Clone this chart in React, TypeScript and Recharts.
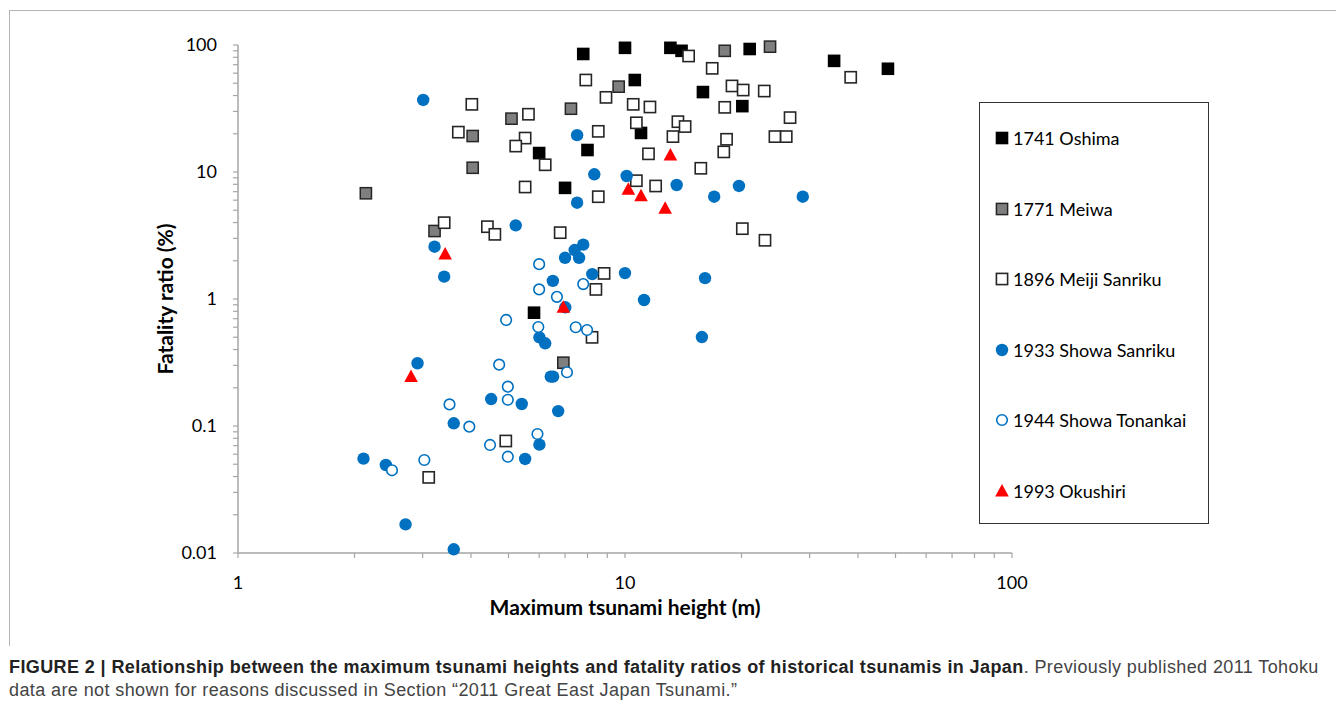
import { Legend, Scatter, ScatterChart, XAxis, YAxis } from "recharts";

// tsunami height (m) vs fatality ratio (%)
const oshima = [
  { h: 7.8, f: 85 }, { h: 10.0, f: 95 }, { h: 13.1, f: 95 }, { h: 14.0, f: 90 },
  { h: 21.0, f: 93 }, { h: 10.6, f: 53 }, { h: 15.9, f: 42.6 }, { h: 20.1, f: 33 },
  { h: 11.0, f: 20.3 }, { h: 6.0, f: 14.1 }, { h: 8.0, f: 14.9 }, { h: 7.0, f: 7.5 },
  { h: 34.7, f: 75 }, { h: 47.8, f: 65 }, { h: 5.82, f: 0.78 },
];

const meiwa = [
  { h: 2.14, f: 6.8 }, { h: 3.22, f: 3.43 }, { h: 4.04, f: 19.2 }, { h: 4.04, f: 10.8 },
  { h: 5.09, f: 26.3 }, { h: 7.25, f: 31.5 }, { h: 9.63, f: 47 }, { h: 18.1, f: 90 },
  { h: 23.7, f: 97 }, { h: 6.93, f: 0.315 },
];

const meiji = [
  { h: 4.02, f: 34.1 }, { h: 5.63, f: 28.5 }, { h: 3.71, f: 20.6 }, { h: 5.52, f: 18.5 },
  { h: 5.22, f: 16.0 }, { h: 6.22, f: 11.4 }, { h: 5.52, f: 7.62 }, { h: 7.92, f: 53 },
  { h: 8.93, f: 38.7 }, { h: 10.5, f: 34.1 }, { h: 8.53, f: 20.9 }, { h: 10.7, f: 24.4 },
  { h: 11.6, f: 32.5 }, { h: 11.5, f: 13.9 }, { h: 10.7, f: 8.54 }, { h: 8.53, f: 6.39 },
  { h: 3.41, f: 3.99 }, { h: 4.41, f: 3.71 }, { h: 4.61, f: 3.23 }, { h: 6.8, f: 3.33 },
  { h: 8.83, f: 1.59 }, { h: 8.41, f: 1.19 }, { h: 8.22, f: 0.499 }, { h: 4.92, f: 0.0762 },
  { h: 3.11, f: 0.0394 }, { h: 14.6, f: 81.9 }, { h: 16.8, f: 65.5 }, { h: 38.3, f: 55.7 },
  { h: 18.9, f: 47.6 }, { h: 20.2, f: 44.2 }, { h: 22.9, f: 43.4 }, { h: 18.1, f: 32.3 },
  { h: 26.7, f: 26.8 }, { h: 13.7, f: 24.9 }, { h: 14.3, f: 22.8 }, { h: 13.3, f: 19.0 },
  { h: 18.3, f: 18.1 }, { h: 24.4, f: 19.0 }, { h: 26.1, f: 19.0 }, { h: 18.0, f: 14.4 },
  { h: 15.7, f: 10.7 }, { h: 12.0, f: 7.76 }, { h: 20.1, f: 3.58 }, { h: 23.0, f: 2.9 },
];

const showaSanriku = [
  { h: 3.01, f: 36.9 }, { h: 7.52, f: 19.5 }, { h: 8.33, f: 9.59 }, { h: 10.1, f: 9.3 },
  { h: 7.52, f: 5.73 }, { h: 5.22, f: 3.8 }, { h: 3.22, f: 2.58 }, { h: 3.41, f: 1.5 },
  { h: 7.41, f: 2.43 }, { h: 7.8, f: 2.68 }, { h: 7.0, f: 2.11 }, { h: 7.61, f: 2.11 },
  { h: 8.23, f: 1.57 }, { h: 10.0, f: 1.6 }, { h: 6.51, f: 1.39 }, { h: 11.2, f: 0.982 },
  { h: 7.01, f: 0.86 }, { h: 6.01, f: 0.499 }, { h: 6.22, f: 0.448 }, { h: 6.43, f: 0.245 },
  { h: 6.52, f: 0.245 }, { h: 2.91, f: 0.312 }, { h: 4.51, f: 0.163 }, { h: 5.41, f: 0.149 },
  { h: 6.72, f: 0.131 }, { h: 3.61, f: 0.105 }, { h: 6.01, f: 0.0713 }, { h: 5.52, f: 0.055 },
  { h: 2.11, f: 0.0553 }, { h: 2.41, f: 0.0493 }, { h: 2.71, f: 0.0168 }, { h: 3.61, f: 0.0107 },
  { h: 13.6, f: 7.9 }, { h: 19.7, f: 7.76 }, { h: 17.0, f: 6.39 }, { h: 28.8, f: 6.39 },
  { h: 16.1, f: 1.46 }, { h: 15.8, f: 0.502 },
];

const showaTonankai = [
  { h: 6.0, f: 1.88 }, { h: 6.0, f: 1.19 }, { h: 7.8, f: 1.31 }, { h: 6.67, f: 1.04 },
  { h: 4.93, f: 0.684 }, { h: 5.97, f: 0.602 }, { h: 7.46, f: 0.599 }, { h: 7.98, f: 0.57 },
  { h: 4.73, f: 0.304 }, { h: 7.08, f: 0.265 }, { h: 4.98, f: 0.204 }, { h: 4.98, f: 0.161 },
  { h: 3.52, f: 0.148 }, { h: 3.96, f: 0.0988 }, { h: 5.94, f: 0.0865 }, { h: 4.48, f: 0.0709 },
  { h: 4.98, f: 0.0573 }, { h: 3.03, f: 0.054 }, { h: 2.5, f: 0.0448 },
];

const okushiri = [
  { h: 3.43, f: 2.26 }, { h: 13.1, f: 13.6 }, { h: 10.2, f: 7.31 }, { h: 11.0, f: 6.51 },
  { h: 12.7, f: 5.18 }, { h: 6.93, f: 0.86 }, { h: 2.8, f: 0.245 },
];

const xTicks = [1, 2, 3, 4, 5, 6, 7, 8, 9, 10, 20, 30, 40, 50, 60, 70, 80, 90, 100];
const yTicks = [
  0.01, 0.02, 0.03, 0.04, 0.05, 0.06, 0.07, 0.08, 0.09,
  0.1, 0.2, 0.3, 0.4, 0.5, 0.6, 0.7, 0.8, 0.9,
  1, 2, 3, 4, 5, 6, 7, 8, 9,
  10, 20, 30, 40, 50, 60, 70, 80, 90, 100,
];
const majorTicks = [0.01, 0.1, 1, 10, 100];

const FONT = "Lato, 'Open Sans', sans-serif";
const AXIS_GRAY = "#a6a6a6";
const BLUE = "#0070c0";

type Marker = "black" | "gray" | "open" | "dot" | "ring" | "tri";

function MarkerShape({ kind, cx, cy }: { kind: Marker; cx: number; cy: number }) {
  if (kind === "black") return <rect x={cx - 6.3} y={cy - 6.3} width={12.6} height={12.6} fill="#000" />;
  if (kind === "gray")
    return <rect x={cx - 5.6} y={cy - 5.6} width={11.2} height={11.2} fill="#7f7f7f" stroke="#262626" strokeWidth={1.5} />;
  if (kind === "open")
    return <rect x={cx - 5.6} y={cy - 5.6} width={11.2} height={11.2} fill="#fff" stroke="#262626" strokeWidth={1.6} />;
  if (kind === "dot") return <circle cx={cx} cy={cy} r={6.2} fill={BLUE} />;
  if (kind === "ring") return <circle cx={cx} cy={cy} r={5.3} fill="#fff" stroke={BLUE} strokeWidth={1.6} />;
  return <path d={`M${cx},${cy - 7} L${cx + 6.8},${cy + 5.5} L${cx - 6.8},${cy + 5.5} Z`} fill="#ff0000" />;
}

const series: { name: string; data: { h: number; f: number }[]; kind: Marker }[] = [
  { name: "1741 Oshima", data: oshima, kind: "black" },
  { name: "1771 Meiwa", data: meiwa, kind: "gray" },
  { name: "1896 Meiji Sanriku", data: meiji, kind: "open" },
  { name: "1933 Showa Sanriku", data: showaSanriku, kind: "dot" },
  { name: "1944 Showa Tonankai", data: showaTonankai, kind: "ring" },
  { name: "1993 Okushiri", data: okushiri, kind: "tri" },
];

const isMajor = (v: number) => majorTicks.some((m) => Math.abs(v - m) / m < 1e-6);

function XTick({ x, y, payload }: any) {
  if (!isMajor(payload.value)) return <g />;
  return (
    <text x={x} y={y} textAnchor="middle" dy="0.72em" fontSize={18} fontFamily={FONT} fill="#000">
      {payload.value}
    </text>
  );
}

function YTick({ x, y, payload }: any) {
  if (!isMajor(payload.value)) return <g />;
  return (
    <text x={x} y={y} textAnchor="end" dy="0.36em" fontSize={18} fontFamily={FONT} fill="#000">
      {payload.value}
    </text>
  );
}

function LegendBox() {
  return (
    <div
      style={{
        width: 230,
        height: 422,
        border: "1.5px solid #333",
        boxSizing: "border-box",
        position: "relative",
        background: "#fff",
        fontFamily: FONT,
        fontSize: 18,
        color: "#000",
      }}
    >
      {series.map((s, i) => (
        <div key={s.name} style={{ position: "absolute", left: 12, top: 35 + i * 70.6 - 12, height: 24, display: "flex", alignItems: "center" }}>
          <svg width={20} height={24} style={{ display: "block" }}>
            <MarkerShape kind={s.kind} cx={10} cy={12} />
          </svg>
          <span style={{ marginLeft: 1, whiteSpace: "nowrap" }}>{s.name}</span>
        </div>
      ))}
    </div>
  );
}

export default function App() {
  return (
    <div style={{ position: "relative", width: 1336, height: 699, background: "#fff" }}>
      <div
        style={{
          position: "absolute",
          left: 1,
          top: 2,
          width: 1335,
          height: 636,
          borderTop: "1px solid #b4b4b4",
          borderLeft: "1px solid #b4b4b4",
          boxSizing: "border-box",
        }}
      />
      <div style={{ position: "absolute", left: 0, top: 0 }}>
        <ScatterChart width={1220} height={640} margin={{ top: 37, right: 216, bottom: 55, left: 0 }}>
          <XAxis
            type="number"
            dataKey="h"
            scale="log"
            domain={[1, 100]}
            ticks={xTicks}
            interval={0}
            height={40}
            tickSize={5}
            tickMargin={18}
            tick={<XTick />}
            axisLine={{ stroke: AXIS_GRAY, strokeWidth: 1.5 }}
            tickLine={{ stroke: AXIS_GRAY, strokeWidth: 1.2 }}
            label={{
              content: ({ viewBox }: any) => (
                <text
                  x={viewBox.x + viewBox.width / 2}
                  y={viewBox.y + 54}
                  textAnchor="middle"
                  dy="0.36em"
                  fontSize={21}
                  fontWeight="bold"
                  fontFamily={FONT}
                  fill="#000"
                >
                  Maximum tsunami height (m)
                </text>
              ),
            }}
          />
          <YAxis
            type="number"
            dataKey="f"
            scale="log"
            domain={[0.01, 100]}
            ticks={yTicks}
            interval={0}
            width={230}
            tickSize={5}
            tickMargin={16}
            tick={<YTick />}
            axisLine={{ stroke: AXIS_GRAY, strokeWidth: 1.5 }}
            tickLine={{ stroke: AXIS_GRAY, strokeWidth: 1.2 }}
            label={{
              content: ({ viewBox }: any) => {
                const cx = viewBox.x + 157;
                const cy = viewBox.y + viewBox.height / 2;
                return (
                  <text
                    x={cx}
                    y={cy}
                    transform={`rotate(-90, ${cx}, ${cy})`}
                    textAnchor="middle"
                    dy="0.36em"
                    fontSize={21}
                    fontWeight="bold"
                    fontFamily={FONT}
                    fill="#000"
                  >
                    Fatality ratio (%)
                  </text>
                );
              },
            }}
          />
          {series.map((s) => (
            <Scatter
              key={s.name}
              name={s.name}
              data={s.data}
              isAnimationActive={false}
              shape={(p: any) => <MarkerShape kind={s.kind} cx={p.cx} cy={p.cy} />}
            />
          ))}
          <Legend
            layout="vertical"
            align="center"
            verticalAlign="middle"
            wrapperStyle={{ left: 971, top: 94, width: 230, height: 422 }}
            content={() => <LegendBox />}
          />
        </ScatterChart>
      </div>
      <div
        style={{
          position: "absolute",
          left: 1,
          top: 648,
          width: 1335,
          fontFamily: "'Liberation Sans', Arial, sans-serif",
          fontSize: 18,
          letterSpacing: "0.4px",
          lineHeight: "23px",
          color: "#444",
          whiteSpace: "nowrap",
        }}
      >
        <span style={{ fontWeight: "bold", color: "#222" }}>
          FIGURE 2 | Relationship between the maximum tsunami heights and fatality ratios of historical tsunamis in Japan
        </span>
        . Previously published 2011 Tohoku
        <br />
        data are not shown for reasons discussed in Section “2011 Great East Japan Tsunami.”
      </div>
    </div>
  );
}
